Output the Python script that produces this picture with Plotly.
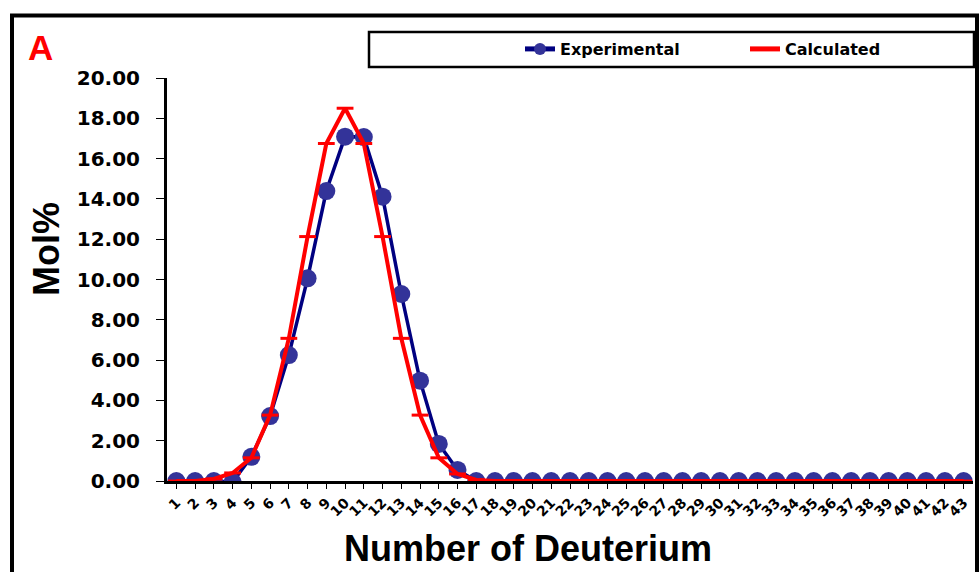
import plotly.graph_objects as go

deuterium = list(range(1, 44))
tick_labels = [str(i) for i in deuterium]
experimental = [0.0, 0.0, 0.0, -0.05, 1.2, 3.22, 6.25, 10.06, 14.39, 17.09, 17.07, 14.11,
                9.28, 4.98, 1.84, 0.55] + [0.0] * 27
calculated = [0.0, 0.0, 0.1, 0.4, 1.15, 3.27, 7.08, 12.13, 16.75, 18.5, 16.75, 12.13,
              7.08, 3.27, 1.15, 0.35, 0.05] + [0.0] * 26

W, H = 979, 572
L, R, T, B = 167, 6, 78, 91
PW, PH = W - L - R, H - T - B

def px(x):
    return (x - L) / PW

def py(y):
    return (H - B - y) / PH

font_main = "Liberation Sans, Arial, sans-serif"
font_wide = "DejaVu Sans, Verdana, sans-serif"

fig = go.Figure()
fig.add_trace(go.Scatter(
    x=deuterium, y=experimental, name="Experimental", mode="lines+markers",
    line=dict(color="#000080", width=3.5),
    marker=dict(symbol="circle", size=18, color="#333399"),
    legend="legend",
))
fig.add_trace(go.Scatter(
    x=deuterium, y=calculated, name="Calculated", mode="lines+markers",
    line=dict(color="#FF0000", width=4),
    marker=dict(symbol="line-ew", size=12, line=dict(color="#FF0000", width=3)),
    legend="legend2",
))

legend_font = dict(family=font_wide, size=16, color="black", weight="bold")

fig.update_layout(
    width=W, height=H,
    margin=dict(l=L, r=R, t=T, b=B, autoexpand=False),
    paper_bgcolor="white", plot_bgcolor="white",
    showlegend=True,
    legend=dict(
        orientation="h", x=px(520), y=py(49), xanchor="left", yanchor="middle",
        bgcolor="rgba(0,0,0,0)", itemsizing="constant", font=legend_font,
    ),
    legend2=dict(
        orientation="h", x=px(745), y=py(49), xanchor="left", yanchor="middle",
        bgcolor="rgba(0,0,0,0)", itemsizing="constant", font=legend_font,
    ),
    xaxis=dict(
        range=[0.5, 43.5], tickmode="array", tickvals=deuterium, ticktext=tick_labels,
        tickangle=-45, showgrid=False, zeroline=False,
        showline=True, linecolor="black", linewidth=3,
        ticks="outside", ticklen=5, tickcolor="black", tickson="boundaries",
        tickfont=dict(family=font_wide, size=14, color="black", weight="bold"),
    ),
    yaxis=dict(
        range=[0, 20], tickvals=[0, 2, 4, 6, 8, 10, 12, 14, 16, 18, 20], tickformat=".2f",
        showgrid=False, zeroline=False,
        showline=True, linecolor="black", linewidth=3,
        ticks="outside", ticklen=8, tickcolor="black", ticklabelstandoff=12,
        tickfont=dict(family=font_wide, size=20, color="black", weight="bold"),
    ),
    shapes=[
        dict(type="rect", xref="paper", yref="paper",
             x0=px(12), x1=px(977), y0=py(600), y1=py(15.5),
             line=dict(color="black", width=4), fillcolor="rgba(0,0,0,0)", layer="below"),
        dict(type="rect", xref="paper", yref="paper",
             x0=px(369), x1=px(974), y0=py(67), y1=py(32),
             line=dict(color="black", width=2.5), fillcolor="rgba(0,0,0,0)"),
    ],
    annotations=[
        dict(text="A", xref="paper", yref="paper", x=px(40), y=py(47),
             xanchor="center", yanchor="middle", showarrow=False,
             font=dict(family=font_main, size=35, color="#FF0000", weight="bold")),
        dict(text="Number of Deuterium", xref="paper", yref="paper", x=px(528), y=py(548),
             xanchor="center", yanchor="middle", showarrow=False,
             font=dict(family=font_main, size=36, color="black", weight="bold")),
        dict(text="Mol%", xref="paper", yref="paper", x=px(46), y=py(249), textangle=-90,
             xanchor="center", yanchor="middle", showarrow=False,
             font=dict(family=font_main, size=36, color="black", weight="bold")),
    ],
)

fig.write_html("out.html")
